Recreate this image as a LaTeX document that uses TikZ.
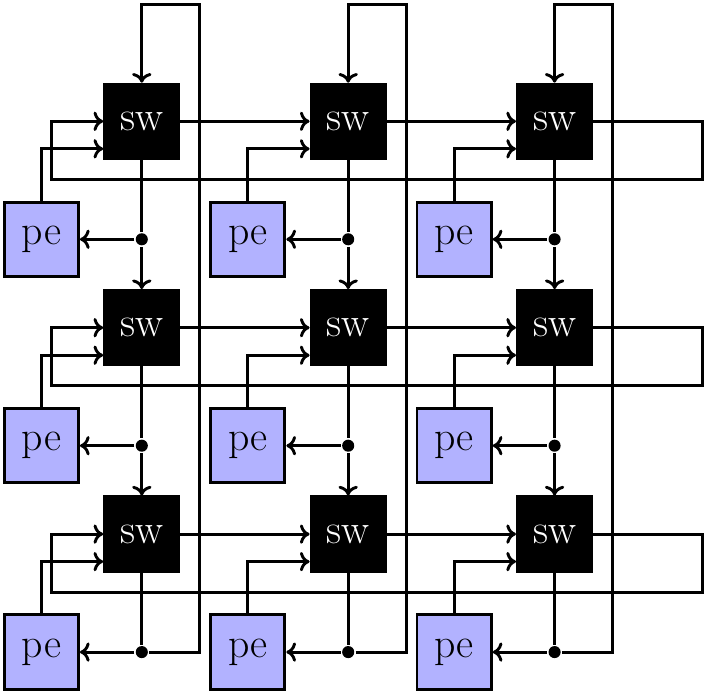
\documentclass[tikz,border=0pt]{standalone}
\usepackage{amssymb,amsmath}
\usepackage{xcolor}
\usetikzlibrary{calc,arrows.meta}

\begin{document}
\begin{tikzpicture}[>={To[length=4pt,width=8pt]},very thick,
    swbox/.style={draw,fill=black,text=white,minimum size=1.08cm,inner sep=0pt,font=\LARGE},
    pebox/.style={draw,fill=blue!30,minimum size=1.08cm,inner sep=0pt,font=\LARGE},
    junct/.style={circle,fill,inner sep=0pt,minimum size=5pt}]
    \useasboundingbox (-2.061,1.763) rectangle (8.23,-8.295);

    \foreach \c in {0,1,2} \foreach \r in {0,1,2} {
    \node[swbox] (sw-\c-\r) at (3*\c,-3*\r) {sw};
    \node[pebox] (pe-\c-\r) at ($(sw-\c-\r)+(-1.46,-1.715)$) {pe};
    \node[junct] (j-\c-\r) at (sw-\c-\r |- pe-\c-\r) {};
    }

    \foreach \c in {0,1,2} \foreach \r in {0,1,2} {
    \draw (sw-\c-\r.south) -- (j-\c-\r);
    \draw[->] (j-\c-\r) -- (pe-\c-\r.east);
    \draw[->] (pe-\c-\r.north) |- ($(sw-\c-\r.west)+(0,-0.4)$);
    }

    % down links, last row wraps to the top
    \foreach \c in {0,1,2} {
    \draw[->] (j-\c-0) -- (sw-\c-1.north);
    \draw[->] (j-\c-1) -- (sw-\c-2.north);
    \draw[->] (j-\c-2) -- ++(0.845,0) |- ($(sw-\c-0)+(0,1.70)$) -- (sw-\c-0.north);
    }

    % right links, last column wraps to the left
    \foreach \r in {0,1,2} {
    \draw[->] (sw-0-\r.east) -- (sw-1-\r.west);
    \draw[->] (sw-1-\r.east) -- (sw-2-\r.west);
    \draw[->] (sw-2-\r.east) -- ++(1.59,0) |- ($(sw-0-\r)+(-1.31,-0.845)$) |- (sw-0-\r.west);
    }

\end{tikzpicture}
\end{document}
